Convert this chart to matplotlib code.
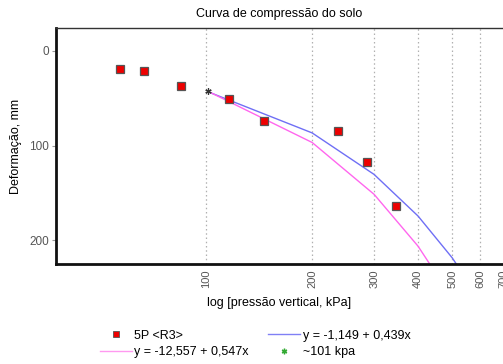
import matplotlib
matplotlib.use("Agg")
import matplotlib.pyplot as plt
from matplotlib.lines import Line2D
from matplotlib.ticker import FixedLocator, NullLocator, NullFormatter

plt.rcParams['font.family'] = ['Liberation Sans', 'DejaVu Sans']

# Data
pressure = [56.7, 66.4, 84.8, 116.4, 145.6, 237, 287, 346]
deform = [19, 21, 37, 51, 74, 85, 117, 164]

line_x = [101, 200, 300, 400, 500, 600]
blue_y = [43.2, 86.7, 130.5, 174.4, 218.4, 262.3]
pink_y = [42.7, 96.8, 151.5, 206.2, 261.0, 315.7]

ref_x = [101]
ref_y = [42.3]

x_ticks = [100, 200, 300, 400, 500, 600, 700]
x_ticklabels = ['100', '200', '300', '400', '500', '600', '700']
y_ticks = [0, 100, 200]

title = 'Curva de compressão do solo'
xlabel = 'log [pressão vertical, kPa]'
ylabel = 'Deformação, mm'
lab_pts = '5P <R3>'
lab_blue = 'y = -1,149 + 0,439x'
lab_pink = 'y = -12,557 + 0,547x'
lab_ref = '~101 kpa'

W, H = 503, 364
fig = plt.figure(figsize=(W / 100, H / 100), dpi=100)
ax = fig.add_axes([56 / W, 1 - 264 / H, (W - 56) / W + 0.02, (264 - 28) / H])
ax.set_xscale('log')
ax.set_xlim(37.4, 745)
ax.set_ylim(225, -24)

for xv in x_ticks:
    ax.axvline(xv, color='#b0b0b0', lw=0.9, ls=(0, (1.2, 2.2)), zorder=0)

ax.plot(line_x, blue_y, color='#6f6ff5', lw=1.0, zorder=2)
ax.plot(line_x, pink_y, color='#ff66ee', lw=1.0, zorder=2)
ax.plot(pressure, deform, 's', ms=6, mfc='#ee0000', mec='#555555', mew=0.9, ls='none', zorder=3)
ax.plot(ref_x, ref_y, marker=(6, 2, 0), ms=4.5, color='#333333', mew=0.9, ls='none', zorder=4)

ax.xaxis.set_major_locator(FixedLocator(x_ticks))
ax.xaxis.set_minor_locator(NullLocator())
ax.xaxis.set_minor_formatter(NullFormatter())
ax.set_xticklabels(x_ticklabels, rotation=90)
ax.set_yticks(y_ticks)

ax.tick_params(axis='x', length=0, labelsize=8, labelcolor='#555555', pad=4)
ax.tick_params(axis='y', length=3, width=0.8, color='#999999', labelsize=8.5, labelcolor='#555555', pad=2)

for side in ['left', 'bottom']:
    ax.spines[side].set_linewidth(2.0)
    ax.spines[side].set_color('#111111')
ax.spines['top'].set_linewidth(1.0)
ax.spines['top'].set_color('#333333')
ax.spines['right'].set_visible(False)

fig.text(279 / W, 1 - 14 / H, title, ha='center', va='center', fontsize=9)
fig.text(279 / W, 1 - 303 / H, xlabel, ha='center', va='center', fontsize=9)
fig.text(16 / W, 1 - 146 / H, ylabel, ha='center', va='center', fontsize=9, rotation=90)

handles = [
    Line2D([], [], marker='s', ms=5, mfc='#ee0000', mec='#555555', mew=0.6, ls='none'),
    Line2D([], [], color='#ff99f0', lw=1.0),
    Line2D([], [], color='#8080f5', lw=1.0),
    Line2D([], [], marker=(6, 2, 0), ms=4, color='#33aa33', mew=1.0, ls='none'),
]
labels = [lab_pts, lab_pink, lab_blue, lab_ref]
fig.legend(handles, labels, ncol=2, loc='center', bbox_to_anchor=(255 / W, 1 - 344 / H),
           frameon=False, fontsize=9, handlelength=2.6, handletextpad=0.2,
           columnspacing=1.5, labelspacing=0.35)

fig.savefig('out.png', dpi=100)
